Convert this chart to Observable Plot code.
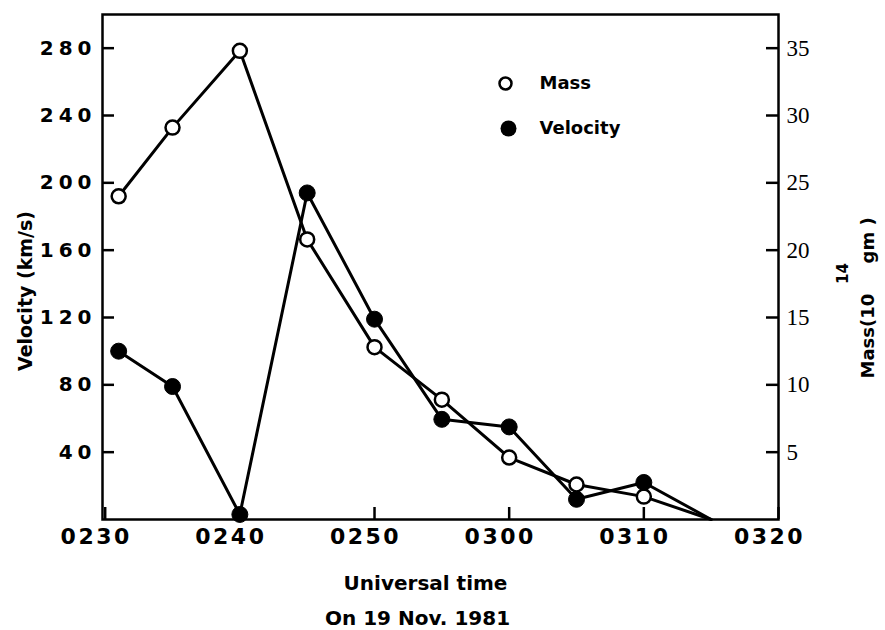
<!DOCTYPE html>
<html><head><meta charset="utf-8">
<script src="https://cdn.jsdelivr.net/npm/d3@7"></script>
<script src="https://cdn.jsdelivr.net/npm/@observablehq/plot@0.6"></script>
<style>
body{margin:0;background:#fff;}
g[aria-label="y-axis tick label"] text {letter-spacing: 5px;}
g[aria-label="x-axis tick label"] text {letter-spacing: 2.5px;}
</style>
</head><body><div id="chart"></div>
<script>
// Universal time (hhmm) on 19 Nov. 1981
const times      = ["0231","0235","0240","0245","0250","0255","0300","0305","0310","0315"];
const velocity   = [100, 79, 3, 194, 119, 59.5, 55, 12, 22, 0];      // km/s
const mass       = [24.0, 29.1, 34.8, 20.8, 12.8, 8.9, 4.6, 2.6, 1.7, 0]; // 10^14 gm
const hasMarker  = [true,true,true,true,true,true,true,true,true,false];
const xTickLabels = ["0230","0240","0250","0300","0310","0320"];
const velTicks   = [40, 80, 120, 160, 200, 240, 280];
const massTicks  = [5, 10, 15, 20, 25, 30, 35];
const legendLabels = ["Mass", "Velocity"];

const toMin = s => (+s.slice(0,2))*60 + (+s.slice(2)) - 150; // minutes after 02:30
const massToVel = m => m * 8; // right axis: 35 ↔ 280

const rows = times.map((t,i) => ({t: toMin(t), v: velocity[i], m: massToVel(mass[i]), mk: hasMarker[i]}));
const markerRows = rows.filter(d => d.mk);
const xTicks = xTickLabels.map(toMin);

const W = 885, H = 630, mL = 102, mR = 107, mT = 14, mB = 111;
const fw = W - mL - mR, fh = H - mT - mB;
const font = "DejaVu Sans";
const lw = 3;

const chart = Plot.plot({
  width: W, height: H,
  marginLeft: mL, marginRight: mR, marginTop: mT, marginBottom: mB,
  style: {fontFamily: font, color: "black", background: "white"},
  x: {domain: [-0.2, 50]},
  y: {domain: [0, 300]},
  marks: [
    Plot.frame({strokeWidth: 2.5}),
    // inward ticks
    Plot.tickY(velTicks, {y: d => d, insetRight: fw - 12, strokeWidth: 2.5}),
    Plot.tickY(massTicks, {y: d => massToVel(d), insetLeft: fw - 12, strokeWidth: 2.5}),
    Plot.tickX(xTicks, {x: d => d, insetTop: fh - 12, strokeWidth: 2.5}),
    // axes labels
    Plot.axisY({ticks: velTicks, tickSize: 0, tickPadding: 6, fontSize: 20, fontWeight: "bold", label: null}),
    Plot.axisX({ticks: xTicks, tickSize: 0, tickPadding: 9, dx: -9, fontSize: 22, fontWeight: "bold",
                tickFormat: (d, i) => xTickLabels[i], label: null}),
    Plot.text(massTicks, {y: d => massToVel(d), text: d => String(d), frameAnchor: "right", textAnchor: "start",
                dx: 8, fontSize: 23, fontFamily: "Liberation Sans Narrow"}),
    // series
    Plot.line(rows, {x: "t", y: "m", stroke: "black", strokeWidth: lw}),
    Plot.line(rows, {x: "t", y: "v", stroke: "black", strokeWidth: lw}),
    Plot.dot(markerRows, {x: "t", y: "m", r: 7, fill: "white", stroke: "black", strokeWidth: 2.5}),
    Plot.dot(markerRows, {x: "t", y: "v", r: 8, fill: "black", stroke: "black", strokeWidth: 1}),
    // legend
    Plot.dot([legendLabels[0]], {frameAnchor: "top-left", dx: 403, dy: 69, r: 6, fill: "white", stroke: "black", strokeWidth: 2.5}),
    Plot.dot([legendLabels[1]], {frameAnchor: "top-left", dx: 406, dy: 114, r: 8, fill: "black"}),
    Plot.text([legendLabels[0]], {text: d => d, frameAnchor: "top-left", lineAnchor: "middle", dx: 437, dy: 69, textAnchor: "start", fontSize: 18, fontWeight: "bold"}),
    Plot.text([legendLabels[1]], {text: d => d, frameAnchor: "top-left", lineAnchor: "middle", dx: 437, dy: 114, textAnchor: "start", fontSize: 18, fontWeight: "bold"}),
    // axis titles
    Plot.text(["Velocity (km/s)"], {text: d => d, frameAnchor: "left", textAnchor: "middle", lineAnchor: "middle", rotate: -90, dx: -77, dy: 24, fontSize: 19, fontWeight: "bold"}),
    Plot.text(["Mass(10"], {text: d => d, frameAnchor: "right", rotate: -90, textAnchor: "start", lineAnchor: "middle", dx: 90, dy: 111.5, fontSize: 18, fontWeight: "bold"}),
    Plot.text(["14"], {text: d => d, frameAnchor: "right", rotate: -90, textAnchor: "start", lineAnchor: "middle", dx: 65, dy: 17, fontSize: 15, fontWeight: "bold"}),
    Plot.text(["gm )"], {text: d => d, frameAnchor: "right", rotate: -90, textAnchor: "start", lineAnchor: "middle", dx: 90, dy: -3.5, fontSize: 18, fontWeight: "bold"}),
    Plot.text(["Universal time"], {text: d => d, frameAnchor: "bottom", dx: -15, dy: 70, fontSize: 20, fontWeight: "bold"}),
    Plot.text(["On 19 Nov. 1981"], {text: d => d, frameAnchor: "bottom", dx: -23, dy: 105, fontSize: 20, fontWeight: "bold"})
  ]
});
document.getElementById("chart").appendChild(chart);
</script>
</body></html>
